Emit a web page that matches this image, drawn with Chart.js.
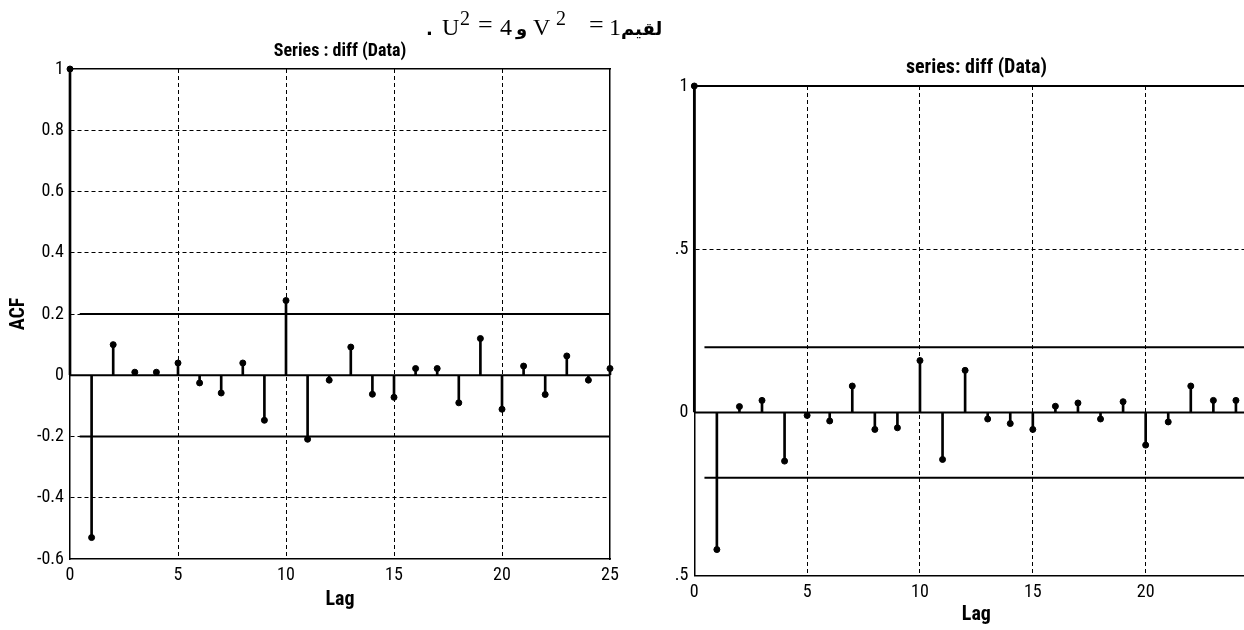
<!DOCTYPE html>
<html>
<head>
<meta charset="utf-8">
<script src="https://cdn.jsdelivr.net/npm/chart.js@4.4.1/dist/chart.umd.min.js"></script>
<style>
    html, body { margin: 0; padding: 0; background: #fff; width: 1244px; height: 630px; overflow: hidden; position: relative; }
    .box { position: absolute; top: 0; width: 640px; height: 630px; }
    #leftBox { left: 0; }
    #rightBox { left: 640px; }
    #note { position: absolute; left: 0; top: 0; z-index: 2; color: #000; }
    #note span { position: absolute; display: block; white-space: nowrap; }
    .lat { font-family: "Liberation Serif", serif; font-size: 24px; line-height: 24px; top: 15px; }
    .sup { font-family: "Liberation Serif", serif; font-size: 20px; line-height: 20px; top: 8px; }
    .eq  { font-family: "Liberation Serif", serif; font-size: 26px; line-height: 26px; top: 12px; }
    .ar  { font-family: "DejaVu Sans", sans-serif; font-weight: bold; font-size: 18px; line-height: 18px; top: 20px; }
</style>
</head>
<body>
<div id="note">
    <span class="ar" style="left:426px">.</span>
    <span class="lat" style="left:442px">U</span>
    <span class="sup" style="left:460px">2</span>
    <span class="eq" style="left:478px">=</span>
    <span class="lat" style="left:500px">4</span>
    <span class="ar" style="left:516px">و</span>
    <span class="lat" style="left:533px">V</span>
    <span class="sup" style="left:556px">2</span>
    <span class="eq" style="left:589px">=</span>
    <span class="lat" style="left:609px">1</span>
    <span class="ar" style="left:621px">لقيم</span>
</div>
<div class="box" id="leftBox"><canvas id="leftChart"></canvas></div>
<div class="box" id="rightBox"><canvas id="rightChart"></canvas></div>

<script>
// values
const lagsLeft = [0, 1, 2, 3, 4, 5, 6, 7, 8, 9, 10, 11, 12, 13, 14, 15, 16, 17, 18, 19, 20, 21, 22, 23, 24, 25];
const acfLeft = [1, -0.53, 0.10, 0.01, 0.01, 0.04, -0.025, -0.058, 0.04, -0.147, 0.244, -0.209, -0.016,
                 0.092, -0.062, -0.072, 0.022, 0.022, -0.09, 0.12, -0.111, 0.03, -0.063, 0.063, -0.016, 0.022];

const lagsRight = [0, 1, 2, 3, 4, 5, 6, 7, 8, 9, 10, 11, 12, 13, 14, 15, 16, 17, 18, 19, 20, 21, 22, 23, 24];
const acfRight = [1, -0.42, 0.018, 0.037, -0.149, -0.009, -0.026, 0.081, -0.052, -0.047, 0.159, -0.144, 0.129,
                  -0.02, -0.034, -0.052, 0.019, 0.029, -0.02, 0.033, -0.1, -0.029, 0.081, 0.037, 0.037];

// confidence limits (+/-) and the lag where those lines begin
const confLeft = 0.2;
const confRight = 0.2;
const bandStart = 0.45;

const xTicks = [0, 5, 10, 15, 20, 25];
const yTicksLeft = [-0.6, -0.4, -0.2, 0, 0.2, 0.4, 0.6, 0.8, 1];
const yTicksRight = [-0.5, 0, 0.5, 1];

const INK = '#000';
const FONT = 'Roboto, "Liberation Sans", sans-serif';

Chart.defaults.font.family = FONT;
Chart.defaults.font.weight = 'condensed';
Chart.defaults.color = INK;

// dashed grid everywhere except where it would sit on the frame
const innerGrid = (lo, hi) => c => (c.tick && (c.tick.value <= lo || c.tick.value >= hi)) ? 'rgba(0,0,0,0)' : INK;

function acfChart(canvasId, opt) {
    const xMax = xTicks[xTicks.length - 1];
    const yMin = opt.yTicks[0];
    const yMax = opt.yTicks[opt.yTicks.length - 1];
    const hLine = (x0, y) => [{ x: x0, y: y }, { x: xMax, y: y }];
    const points = opt.lags.map((l, i) => ({ x: l, y: opt.acf[i] }));

    return new Chart(document.getElementById(canvasId), {
        type: 'bar',
        data: {
            datasets: [
                {
                    type: 'line', data: points, showLine: false,
                    pointRadius: 3, pointBackgroundColor: INK, pointBorderColor: INK, pointBorderWidth: 1,
                    clip: false, order: 0
                },
                { type: 'bar', data: points, backgroundColor: INK, barThickness: 2, clip: false, order: 1 },
                { type: 'line', data: hLine(0, 0), borderColor: INK, borderWidth: 2, pointRadius: 0, order: 2 },
                { type: 'line', data: hLine(bandStart, opt.conf), borderColor: INK, borderWidth: 2, pointRadius: 0, order: 2 },
                { type: 'line', data: hLine(bandStart, -opt.conf), borderColor: INK, borderWidth: 2, pointRadius: 0, order: 2 }
            ]
        },
        options: {
            responsive: true,
            maintainAspectRatio: false,
            animation: false,
            events: [],
            layout: { padding: { left: 0, right: opt.padRight, top: 0, bottom: 0 } },
            plugins: {
                legend: { display: false },
                tooltip: { enabled: false },
                title: {
                    display: true, text: opt.title, fullSize: false, color: INK,
                    font: { size: opt.titleSize, weight: 'bold condensed', family: FONT },
                    padding: opt.titlePad
                }
            },
            scales: {
                x: {
                    type: 'linear', min: 0, max: xMax, offset: false,
                    afterBuildTicks: s => { s.ticks = xTicks.map(v => ({ value: v })); },
                    afterFit: s => { s.height = opt.xAxisH; },
                    grid: { color: innerGrid(0, xMax), lineWidth: 1, drawTicks: false, offset: false },
                    border: { color: INK, width: 1.5, dash: [4, 3] },
                    ticks: { font: { size: 18 }, padding: 6, maxRotation: 0 },
                    title: {
                        display: true, text: 'Lag', color: INK,
                        font: { size: opt.lagSize, weight: 'bold condensed', family: FONT },
                        padding: { top: 0, bottom: opt.lagPad }
                    }
                },
                y: {
                    type: 'linear', min: yMin, max: yMax,
                    afterBuildTicks: s => { s.ticks = opt.yTicks.map(v => ({ value: v })); },
                    afterFit: s => { s.width = opt.yAxisW; },
                    grid: { color: innerGrid(yMin, yMax), lineWidth: 1, drawTicks: false },
                    border: { color: INK, width: 1.5, dash: [4, 3] },
                    ticks: { font: { size: 18 }, padding: 6, callback: opt.yLabel },
                    title: opt.yTitle
                },
                xTop: {
                    type: 'linear', position: 'top', min: 0, max: 1,
                    afterFit: s => { s.height = 0; },
                    grid: { display: false }, ticks: { display: false },
                    border: { display: true, color: INK, width: opt.topWidth }
                },
                yRight: {
                    type: 'linear', position: 'right', min: 0, max: 1,
                    afterFit: s => { s.width = 0; },
                    grid: { display: false }, ticks: { display: false },
                    border: { display: true, color: INK, width: 1.5 }
                }
            }
        }
    });
}

acfChart('leftChart', {
    lags: lagsLeft, acf: acfLeft, conf: confLeft, yTicks: yTicksLeft,
    title: 'Series : diff (Data)', titleSize: 18, titlePad: { top: 41, bottom: 6.4 },
    padRight: 30, yAxisW: 70, xAxisH: 71, lagSize: 20, lagPad: 18, topWidth: 1.5,
    yLabel: v => String(Math.round(v * 10) / 10),
    yTitle: {
        display: true, text: 'ACF', color: INK,
        font: { size: 20, weight: 'bold condensed', family: FONT },
        padding: { top: 7, bottom: 0 }
    }
});

acfChart('rightChart', {
    lags: lagsRight, acf: acfRight, conf: confRight, yTicks: yTicksRight,
    title: 'series: diff (Data)', titleSize: 20, titlePad: { top: 56, bottom: 6 },
    padRight: 21.5, yAxisW: 54.3, xAxisH: 54.3, lagSize: 20, lagPad: 3, topWidth: 2,
    yLabel: v => String(Math.abs(Math.round(v * 10) / 10)).replace(/^0\./, '.'),
    yTitle: { display: false }
});
</script>
</body>
</html>
